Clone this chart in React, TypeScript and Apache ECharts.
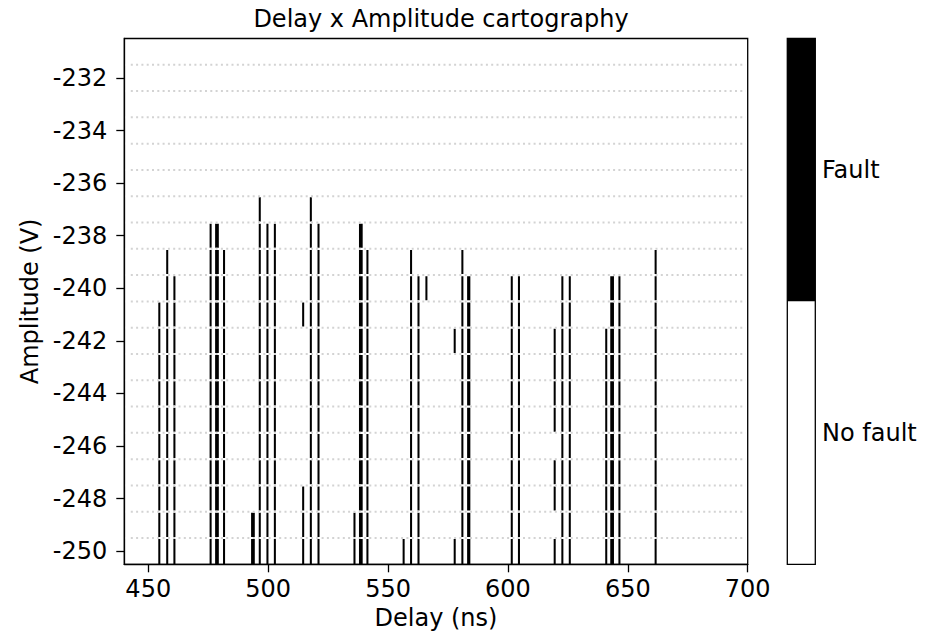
import React, { useEffect, useRef } from "react";
import * as echarts from "echarts";

// ---- data ----
const xTicks = [450, 500, 550, 600, 650, 700];
const yTicks = [-250, -248, -246, -244, -242, -240, -238, -236, -234, -232];
const gridLevels = [
  -249.5, -248.5, -247.5, -246.5, -245.5, -244.5, -243.5, -242.5, -241.5, -240.5,
  -239.5, -238.5, -237.5, -236.5, -235.5, -234.5, -233.5, -232.5, -231.5,
];
// fault runs: delay (ns), lowest faulty amplitude, highest faulty amplitude (V)
const runDelay = [
  454.6, 457.9, 460.9, 476.0, 478.3, 479.0, 481.6, 493.3, 494.0, 496.5,
  499.7, 502.8, 514.6, 514.6, 517.8, 521.0, 536.0, 538.3, 539.0, 541.4,
  556.5, 559.6, 562.7, 566.0, 577.8, 577.8, 581.0, 583.4, 583.9, 601.6,
  604.6, 619.5, 619.5, 619.5, 622.7, 625.8, 641.0, 643.1, 643.8, 646.5,
  661.6,
];
const runLow = [
  -250, -250, -250, -250, -250, -250, -250, -250, -250, -250,
  -250, -250, -250, -241, -250, -250, -250, -250, -250, -250,
  -250, -250, -250, -240, -250, -242, -250, -250, -250, -250,
  -250, -245, -248, -250, -250, -250, -250, -250, -250, -250,
  -250,
];
const runHigh = [
  -241, -239, -240, -238, -238, -238, -239, -249, -249, -237,
  -238, -238, -248, -241, -237, -238, -249, -238, -238, -239,
  -250, -239, -240, -240, -250, -242, -239, -240, -240, -240,
  -240, -242, -247, -250, -240, -240, -242, -240, -240, -240,
  -239,
];
const legendLabels = ["Fault", "No fault"];

const X_MIN = 440;
const X_MAX = 700;
const Y_MIN = -250.5;
const Y_MAX = -230.5;
const CELL_W = 0.85;

const FONT = "DejaVu Sans";
const FS = 24;

const GL = 124.3;
const GT = 38.5;
const GW = 623.4;
const GH = 525.8;

export default function App() {
  const ref = useRef<HTMLDivElement>(null);
  useEffect(() => {
    if (!ref.current) return;
    const chart = echarts.init(ref.current, null, { renderer: "svg" });
    const barData = runDelay.map((d, i) => [d, runLow[i], runHigh[i]]);
    const lineData = gridLevels.map((v) => [X_MIN, v]);
    const textStyle = { fontFamily: FONT, fontSize: FS, color: "#000" };
    const cbX = 787.3;
    const cbW = 28;
    const cbH = GH;
    chart.setOption({
      animation: false,
      backgroundColor: "#fff",
      title: {
        text: "Delay x Amplitude cartography",
        left: GL + GW / 2,
        textAlign: "center",
        top: 2,
        textStyle: { ...textStyle, fontWeight: "normal" },
      },
      grid: {
        left: GL,
        top: GT,
        width: GW,
        height: GH,
        show: true,
        borderColor: "#000",
        borderWidth: 1.3,
        backgroundColor: "transparent",
      },
      xAxis: {
        type: "value",
        min: X_MIN,
        max: X_MAX,
        splitNumber: 5,
        name: "Delay (ns)",
        nameLocation: "middle",
        nameGap: 38,
        nameTextStyle: textStyle,
        axisLine: { show: true, onZero: false, lineStyle: { color: "#000", width: 1.3 } },
        axisTick: { show: true, length: 8, lineStyle: { color: "#000", width: 1.3 }, customValues: xTicks },
        axisLabel: { ...textStyle, margin: 13, customValues: xTicks },
        splitLine: { show: false },
      },
      yAxis: {
        type: "value",
        min: Y_MIN,
        max: Y_MAX,
        name: "Amplitude (V)",
        nameLocation: "middle",
        nameGap: 77,
        nameTextStyle: textStyle,
        axisLine: { show: true, onZero: false, lineStyle: { color: "#000", width: 1.3 } },
        axisTick: { show: true, length: 8, lineStyle: { color: "#000", width: 1.3 }, customValues: yTicks },
        axisLabel: { ...textStyle, margin: 17, customValues: yTicks },
        splitLine: { show: false },
      },
      series: [
        {
          type: "custom",
          name: "faults",
          z: 2,
          data: barData,
          encode: { x: 0, y: [1, 2] },
          renderItem: (params: any, api: any) => {
            const d = api.value(0);
            const lo = api.value(1);
            const hi = api.value(2);
            const p1 = api.coord([d - CELL_W / 2, hi + 0.5]);
            const p2 = api.coord([d + CELL_W / 2, lo - 0.5]);
            return {
              type: "rect",
              shape: { x: p1[0], y: p1[1], width: p2[0] - p1[0], height: p2[1] - p1[1] },
              style: { fill: "#000" },
            };
          },
        },
        {
          type: "custom",
          name: "grid",
          z: 3,
          silent: true,
          data: lineData,
          encode: { x: 0, y: 1 },
          renderItem: (params: any, api: any) => {
            const v = api.value(1);
            const a = api.coord([X_MIN, v]);
            const b = api.coord([X_MAX, v]);
            return {
              type: "group",
              children: [
                {
                  type: "line",
                  shape: { x1: a[0] + 1.5, y1: a[1], x2: b[0] - 1.5, y2: b[1] },
                  style: { stroke: "#fff", lineWidth: 2.2 },
                },
                {
                  type: "line",
                  shape: { x1: a[0] + 6.5, y1: a[1], x2: b[0] - 2, y2: b[1] },
                  style: { stroke: "#d3d3d3", lineWidth: 2, lineDash: [2, 3.3] },
                },
              ],
            };
          },
        },
      ],
      graphic: [
        { type: "rect", shape: { x: cbX, y: GT, width: cbW, height: cbH / 2 }, style: { fill: "#000" } },
        { type: "rect", shape: { x: cbX, y: GT + cbH / 2, width: cbW, height: cbH / 2 }, style: { fill: "#fff" } },
        {
          type: "rect",
          shape: { x: cbX, y: GT, width: cbW, height: cbH },
          style: { fill: "none", stroke: "#000", lineWidth: 1.3 },
        },
        {
          type: "text",
          x: 822,
          y: GT + cbH / 4,
          style: { text: legendLabels[0], fontFamily: FONT, fontSize: FS, fill: "#000", verticalAlign: "middle", align: "left" },
        },
        {
          type: "text",
          x: 822,
          y: GT + (3 * cbH) / 4,
          style: { text: legendLabels[1], fontFamily: FONT, fontSize: FS, fill: "#000", verticalAlign: "middle", align: "left" },
        },
      ],
    });
    return () => chart.dispose();
  }, []);
  return (
    <div
      ref={ref}
      style={{ position: "absolute", left: 0, top: 0, width: 938, height: 636, background: "#fff" }}
    />
  );
}
